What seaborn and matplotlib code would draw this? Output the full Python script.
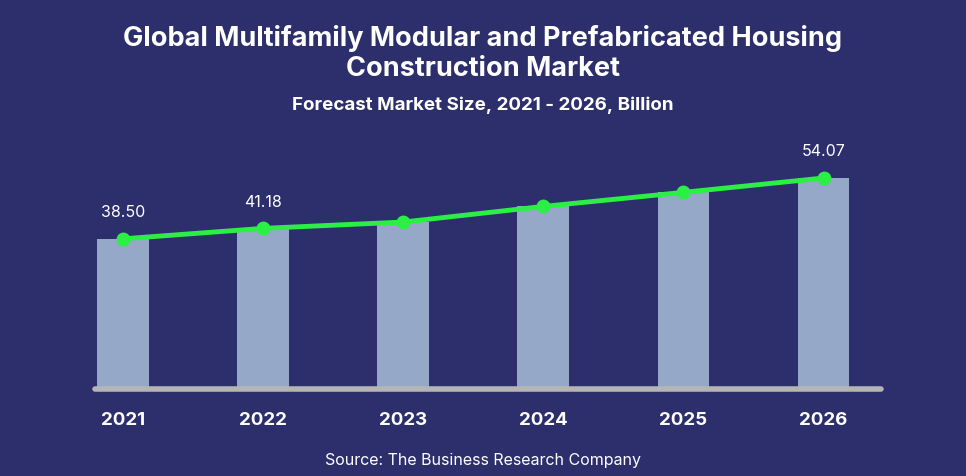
import numpy as np
import pandas as pd
import seaborn as sns
import matplotlib.pyplot as plt

years = ["2021", "2022", "2023", "2024", "2025", "2026"]
market_size = [38.50, 41.18, 42.8, 46.8, 50.4, 54.07]
labelled = {0: "38.50", 1: "41.18", 5: "54.07"}

sns.set_theme(style="white")
plt.rcParams["font.family"] = ["Inter", "DejaVu Sans"]

bg = "#2c2f6c"
df = pd.DataFrame({"year": years, "size": market_size})

fig = plt.figure(figsize=(9.66, 4.77), dpi=100, facecolor=bg)
ax = fig.add_axes([0.055, 0.182, 0.87, 0.524])
ax.set_facecolor(bg)

sns.barplot(data=df, x="year", y="size", color="#95a8c8", width=0.37,
            saturation=1, edgecolor="none", linewidth=0, ax=ax)
sns.lineplot(x=np.arange(len(years)), y=market_size, color="#2bef45",
             linewidth=3.5, marker="o", markersize=10, markeredgewidth=0, ax=ax)

for i, txt in labelled.items():
    ax.text(i, market_size[i] + 5, txt, ha="center", va="bottom",
            color="white", fontsize=11.5)

ax.set_xlim(-0.5, 5.5)
ax.set_ylim(0, 64)
ax.axhline(0, xmin=0.05, xmax=0.985, color="#b5b5b5", linewidth=4, clip_on=False)
sns.despine(ax=ax, left=True, bottom=True)
ax.set_yticks([])
ax.set_xlabel("")
ax.set_ylabel("")
ax.tick_params(axis="x", length=0, pad=16, labelsize=13.5, labelcolor="white")
for t in ax.get_xticklabels():
    t.set_fontweight("bold")

fig.text(0.5, 0.887, "Global Multifamily Modular and Prefabricated Housing\nConstruction Market",
         ha="center", va="center", color="white", fontsize=19.5, fontweight="bold",
         linespacing=1.2)
fig.text(0.5, 0.78, "Forecast Market Size, 2021 - 2026, Billion", ha="center",
         va="center", color="white", fontsize=13.5, fontweight="bold")
fig.text(0.5, 0.034, "Source: The Business Research Company", ha="center",
         va="center", color="white", fontsize=11.5)

fig.savefig("out.png", dpi=100, facecolor=bg)
plt.close()
